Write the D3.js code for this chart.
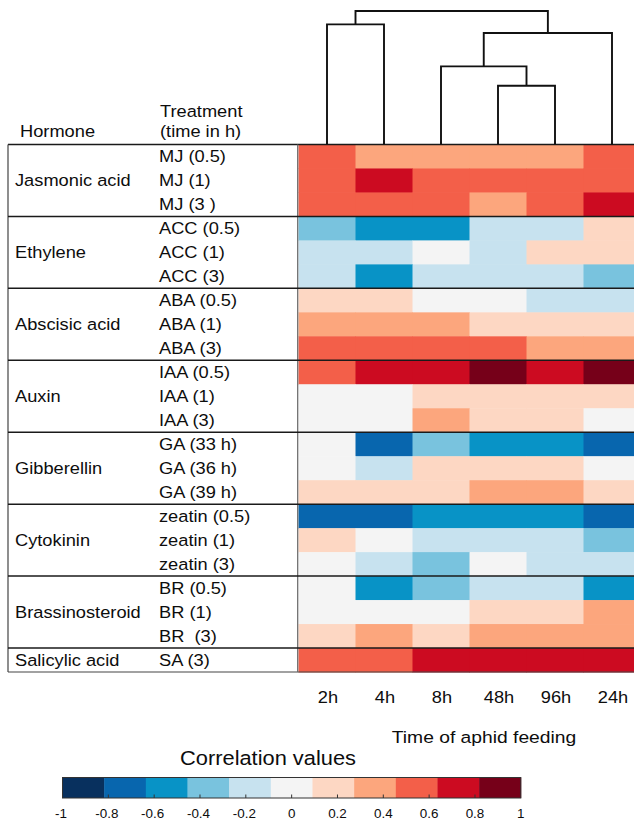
<!DOCTYPE html>
<html>
<head>
<meta charset="utf-8">
<script src="https://cdn.jsdelivr.net/npm/d3@7"></script>
<style>
  html, body { margin: 0; padding: 0; background: #fff; }
  svg { display: block; font-family: "Liberation Sans", Arial, sans-serif; }
  text { white-space: pre; }
</style>
</head>
<body>
<svg id="chart" width="634" height="823"></svg>
<script>
// ---------- data ----------
const timepoints = ["2h", "4h", "8h", "48h", "96h", "24h"];
const hormones = ["Jasmonic acid", "Ethylene", "Abscisic acid", "Auxin", "Gibberellin", "Cytokinin", "Brassinosteroid", "Salicylic acid"];
const treatments = [
  "MJ (0.5)", "MJ (1)", "MJ (3 )",
  "ACC (0.5)", "ACC (1)", "ACC (3)",
  "ABA (0.5)", "ABA (1)", "ABA (3)",
  "IAA (0.5)", "IAA (1)", "IAA (3)",
  "GA (33 h)", "GA (36 h)", "GA (39 h)",
  "zeatin (0.5)", "zeatin (1)", "zeatin (3)",
  "BR (0.5)", "BR (1)", "BR  (3)",
  "SA (3)"
];
const treatmentHormone = [0,0,0, 1,1,1, 2,2,2, 3,3,3, 4,4,4, 5,5,5, 6,6,6, 7];
// correlation values, rows = treatments, columns = timepoints (2h,4h,8h,48h,96h,24h)
const values = [
  [0.55, 0.36, 0.36, 0.36, 0.36, 0.55],
  [0.55, 0.73, 0.55, 0.55, 0.55, 0.55],
  [0.55, 0.55, 0.55, 0.36, 0.55, 0.73],
  [-0.36, -0.55, -0.55, -0.18, -0.18, 0.18],
  [-0.18, -0.18, 0.00, -0.18, 0.18, 0.18],
  [-0.18, -0.55, -0.18, -0.18, -0.18, -0.36],
  [0.18, 0.18, 0.00, 0.00, -0.18, -0.18],
  [0.36, 0.36, 0.36, 0.18, 0.18, 0.18],
  [0.55, 0.55, 0.55, 0.55, 0.36, 0.36],
  [0.55, 0.73, 0.73, 0.91, 0.73, 0.91],
  [0.00, 0.00, 0.18, 0.18, 0.18, 0.18],
  [0.00, 0.00, 0.36, 0.18, 0.18, 0.00],
  [0.00, -0.73, -0.36, -0.55, -0.55, -0.73],
  [0.00, -0.18, 0.18, 0.18, 0.18, 0.00],
  [0.18, 0.18, 0.18, 0.36, 0.36, 0.18],
  [-0.73, -0.73, -0.55, -0.55, -0.55, -0.73],
  [0.18, 0.00, -0.18, -0.18, -0.18, -0.36],
  [0.00, -0.18, -0.36, 0.00, -0.18, -0.18],
  [0.00, -0.55, -0.36, -0.18, -0.18, -0.55],
  [0.00, 0.00, 0.00, 0.18, 0.18, 0.36],
  [0.18, 0.36, 0.18, 0.36, 0.36, 0.36],
  [0.55, 0.55, 0.73, 0.73, 0.73, 0.73]
];
// dendrogram over timepoints (merge heights as distances)
const dendrogram = {h: 1.0, children: [
  {h: 0.90, children: [{name: "2h"}, {name: "4h"}]},
  {h: 0.835, children: [
    {h: 0.585, children: [{name: "8h"}, {h: 0.44, children: [{name: "48h"}, {name: "96h"}]}]},
    {name: "24h"}
  ]}
]};
const legendColors = ["#08305e", "#0866ae", "#0893c6", "#79c3de", "#c7e2ef", "#f4f4f4", "#fdd7c3", "#fca67d", "#f35f49", "#cc0b21", "#760019"];
const legendTicks = [-1, -0.8, -0.6, -0.4, -0.2, 0, 0.2, 0.4, 0.6, 0.8, 1];

// ---------- layout ----------
const svg = d3.select("#chart");
const SX = 1.12;           // horizontal stretch of the original lettering
const tableLeft = 8, heatLeft = 298.5, rightEdge = 634;
const topY = 144.5, bottomY = 672;

const x = d3.scaleBand().domain(timepoints).range([heatLeft, heatLeft + 6 * 57]).padding(0);
const y = d3.scaleBand().domain(d3.range(treatments.length)).range([topY, bottomY]).padding(0);
const color = d3.scaleQuantize().domain([-1, 1]).range(legendColors);

function txt(g, px, py, s, size, anchor) {
  return g.append("text")
    .attr("transform", `translate(${px},${py}) scale(${SX},1)`)
    .attr("font-size", size)
    .attr("text-anchor", anchor || "start")
    .attr("fill", "#0d0d0d")
    .attr("xml:space", "preserve")
    .text(s);
}

// heatmap cells
const cells = [];
values.forEach((row, i) => row.forEach((v, j) => cells.push({i, t: timepoints[j], v})));
svg.append("clipPath").attr("id", "clipR").append("rect")
  .attr("x", 0).attr("y", 0).attr("width", rightEdge).attr("height", 823);
svg.append("g").attr("clip-path", "url(#clipR)")
  .selectAll("rect").data(cells).join("rect")
  .attr("x", d => x(d.t))
  .attr("y", d => y(d.i))
  .attr("width", x.bandwidth() + 0.5)
  .attr("height", y.bandwidth() + 0.5)
  .attr("fill", d => color(d.v));

// table lines
const lines = svg.append("g").attr("stroke", "#1a1a1a").attr("fill", "none");
lines.append("line").attr("x1", tableLeft).attr("x2", rightEdge).attr("y1", topY).attr("y2", topY).attr("stroke-width", 1.5);
lines.append("line").attr("x1", tableLeft).attr("x2", rightEdge).attr("y1", bottomY).attr("y2", bottomY).attr("stroke-width", 1.2).attr("stroke", "#444");
lines.append("line").attr("x1", tableLeft).attr("x2", tableLeft).attr("y1", topY).attr("y2", bottomY).attr("stroke-width", 1.2).attr("stroke", "#444");
lines.append("line").attr("x1", heatLeft - 0.8).attr("x2", heatLeft - 0.8).attr("y1", topY).attr("y2", bottomY).attr("stroke-width", 1.2).attr("stroke", "#666");
const groupBreaks = d3.range(1, treatments.length).filter(i => treatmentHormone[i] !== treatmentHormone[i - 1]);
lines.selectAll("line.sep").data(groupBreaks).join("line").attr("class", "sep")
  .attr("x1", tableLeft).attr("x2", rightEdge)
  .attr("y1", i => y(i)).attr("y2", i => y(i)).attr("stroke-width", 1.5);

// top ticks at columns
lines.selectAll("line.tk").data(timepoints).join("line").attr("class", "tk")
  .attr("x1", d => x(d) + x.bandwidth() / 2).attr("x2", d => x(d) + x.bandwidth() / 2)
  .attr("y1", topY).attr("y2", topY - 3).attr("stroke-width", 1.2);

// labels
const lab = svg.append("g");
txt(lab, 20, 137, "Hormone", 16.3);
txt(lab, 160, 117, "Treatment", 16.3);
txt(lab, 160, 137, "(time in h)", 16.3);
treatments.forEach((t, i) => txt(lab, 159, y(i) + y.bandwidth() / 2 + 5.8, t, 16.3));
hormones.forEach((h, k) => {
  const rows = d3.range(treatments.length).filter(i => treatmentHormone[i] === k);
  const cy = (y(rows[0]) + y(rows[rows.length - 1]) + y.bandwidth()) / 2;
  txt(lab, 15, cy + 5.8, h, 16.3);
});
timepoints.forEach(t => txt(lab, x(t) + x.bandwidth() / 2 + 1, 703, t, 16.3, "middle"));
txt(lab, 484, 743, "Time of aphid feeding", 17.2, "middle");

// dendrogram
const root = d3.hierarchy(dendrogram);
const dy = d3.scaleLinear().domain([0, 1]).range([topY, 11]);
root.eachAfter(n => {
  if (n.children) {
    n.px = d3.mean(n.children, c => c.px);
    n.py = dy(n.data.h);
  } else {
    n.px = x(n.data.name) + x.bandwidth() / 2;
    n.py = dy(0);
  }
});
const dg = svg.append("g").attr("stroke", "#111").attr("stroke-width", 1.9).attr("fill", "none");
root.descendants().filter(n => n.children).forEach(n => {
  const [a, b] = n.children;
  dg.append("path").attr("d", `M${a.px},${a.py}V${n.py}H${b.px}V${b.py}`);
});

// legend
const lx = d3.scaleLinear().domain([-1, 1]).range([62.5, 520.8]);
const lg = svg.append("g");
txt(lg, 268, 765, "Correlation values", 19.5, "middle");
const step = 2 / legendColors.length;
lg.selectAll("rect.c").data(legendColors).join("rect").attr("class", "c")
  .attr("x", (c, k) => lx(-1 + k * step))
  .attr("width", (c, k) => lx(-1 + (k + 1) * step) - lx(-1 + k * step) + 0.4)
  .attr("y", 777.5).attr("height", 20.5).attr("fill", c => c);
lg.append("rect").attr("x", lx(-1)).attr("y", 777.5).attr("width", lx(1) - lx(-1)).attr("height", 20.5)
  .attr("fill", "none").attr("stroke", "#333").attr("stroke-width", 1);
lg.selectAll("line.t").data(legendTicks.slice(1, -1)).join("line").attr("class", "t")
  .attr("x1", d => lx(d)).attr("x2", d => lx(d)).attr("y1", 798).attr("y2", 794.5)
  .attr("stroke", "#333").attr("stroke-width", 1);
legendTicks.forEach(d => txt(lg, lx(d) - (d < 0 ? 1.5 : 0), 818, String(d), 12, "middle"));
</script>
</body>
</html>
